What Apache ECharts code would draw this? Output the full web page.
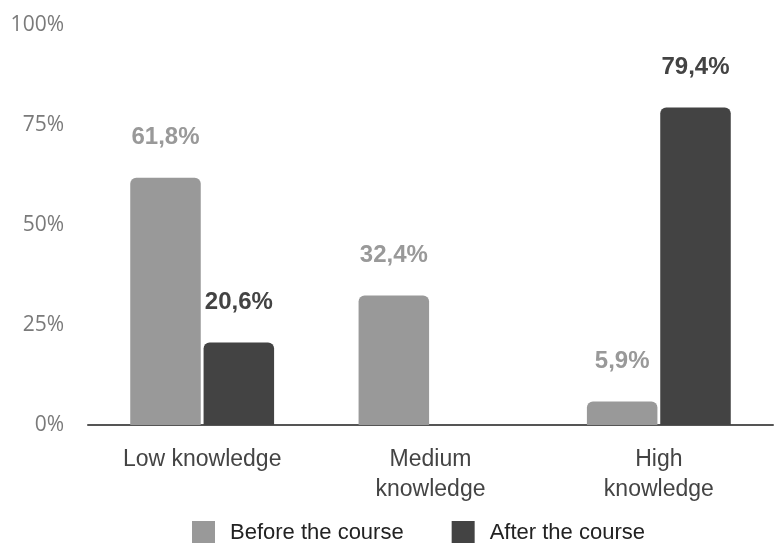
<!DOCTYPE html>
<html>
<head>
<meta charset="utf-8">
<script src="https://cdn.jsdelivr.net/npm/echarts@6/dist/echarts.min.js"></script>
<style>
  html, body { margin: 0; padding: 0; background: #fff; }
  #chart { width: 777px; height: 543px; }
</style>
</head>
<body>
<div id="chart"></div>
<script>
var categories = ['Low knowledge', 'Medium\nknowledge', 'High\nknowledge'];
var beforeValues = [61.8, 32.4, 5.9];
var afterValues = [20.6, null, 79.4];
var seriesNames = ['Before the course', 'After the course'];
var yTicks = [0, 25, 50, 75, 100];

function pct(p) {
    return p.value.toFixed(1).replace('.', ',') + '%';
}

var chart = echarts.init(document.getElementById('chart'));

var option = {
    backgroundColor: '#ffffff',
    animation: false,
    grid: { left: 88, right: 4, top: 25, bottom: 118, containLabel: false },
    legend: {
        left: 192,
        top: 521,
        padding: 0,
        itemWidth: 23,
        itemHeight: 23,
        itemGap: 48,
        icon: 'rect',
        textStyle: { fontFamily: 'Liberation Sans', fontSize: 22, color: '#222', padding: [0, 0, 0, 10] },
        data: seriesNames
    },
    xAxis: {
        type: 'category',
        data: categories,
        axisLine: { lineStyle: { color: '#555', width: 2 } },
        axisTick: { show: false },
        axisLabel: {
            margin: 20,
            fontFamily: 'Liberation Sans',
            fontSize: 23,
            lineHeight: 30,
            color: '#444'
        }
    },
    yAxis: {
        type: 'value',
        min: yTicks[0],
        max: yTicks[yTicks.length - 1],
        interval: 25,
        axisLine: { show: false },
        axisTick: { show: false },
        splitLine: { show: false },
        axisLabel: {
            margin: 24,
            fontFamily: 'Open Sans',
            fontSize: 21,
            color: '#7a7a7a',
            formatter: '{value}%'
        }
    },
    series: [
        {
            name: seriesNames[0],
            type: 'bar',
            data: beforeValues,
            barGap: '4%',
            barCategoryGap: '37%',
            itemStyle: { color: '#999999', borderRadius: [6, 6, 0, 0] },
            label: {
                show: true,
                position: 'top',
                distance: 28,
                fontFamily: 'Liberation Sans',
                fontWeight: 'bold',
                fontSize: 24,
                color: '#999999',
                formatter: pct
            }
        },
        {
            name: seriesNames[1],
            type: 'bar',
            data: afterValues,
            itemStyle: { color: '#434343', borderRadius: [6, 6, 0, 0] },
            label: {
                show: true,
                position: 'top',
                distance: 28,
                fontFamily: 'Liberation Sans',
                fontWeight: 'bold',
                fontSize: 24,
                color: '#434343',
                formatter: pct
            }
        }
    ]
};

chart.setOption(option);

window.addEventListener('resize', function () {
    chart.resize();
});
</script>
</body>
</html>
